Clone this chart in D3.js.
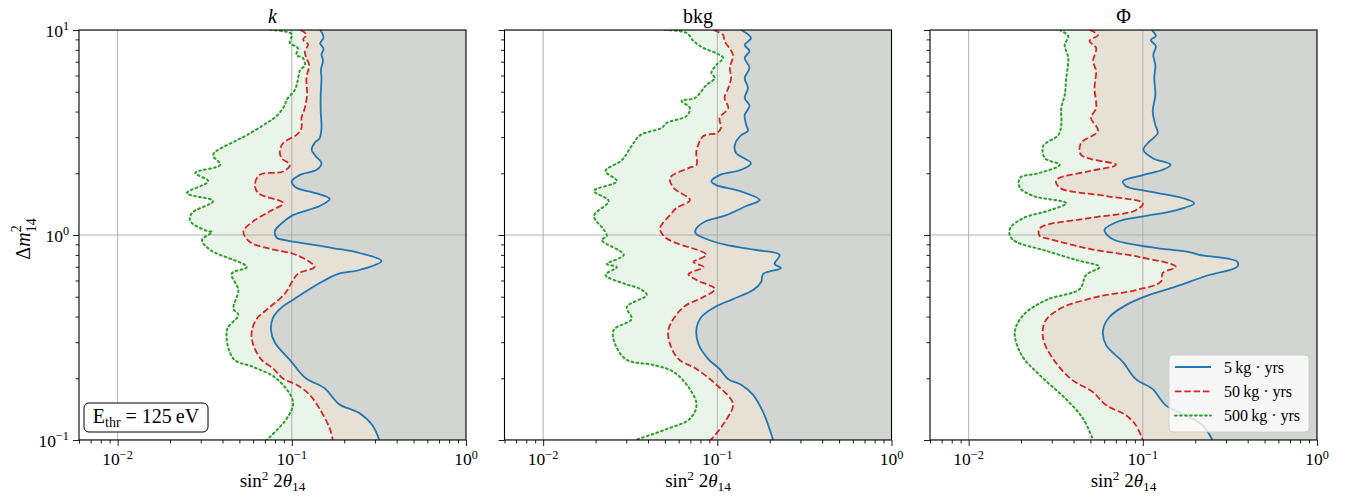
<!DOCTYPE html>
<html>
<head>
<meta charset="utf-8">
<script src="https://cdn.jsdelivr.net/npm/d3@7"></script>
<style>
    body { margin: 0; background: #fff; }
    svg text { font-family: "Liberation Serif", "DejaVu Serif", serif; fill: #000; }
</style>
</head>
<body>
<svg id="chart" width="1354" height="497"></svg>
<script>
// exclusion contours, [sin^2 2theta14, dm2_14]
const titles = ['k', 'bkg', 'Φ']
const exposures = ['5', '50', '500']
const xMajorTicks = [0.01, 0.1, 1]
const yMajorTicks = [0.1, 1, 10]
const thresholdEv = '125'

const kBlue = [[0.1455,10],[0.152,9.2],[0.1455,8.6],[0.152,8.1],[0.148,7.6],[0.151,7.1],[0.147,6.4],[0.148,5.83],[0.1465,4.82],[0.1465,4.02],[0.148,3.33],[0.1445,2.97],[0.135,2.81],[0.130,2.60],[0.137,2.43],[0.148,2.24],[0.139,2.08],[0.111,1.96],[0.100,1.83],[0.105,1.71],[0.137,1.60],[0.165,1.50],[0.1445,1.385],[0.1013,1.25],[0.0854,1.12],[0.080,1.046],[0.0821,0.967],[0.0912,0.945],[0.1715,0.864],[0.245,0.817],[0.327,0.747],[0.245,0.675],[0.183,0.645],[0.1445,0.583],[0.1013,0.482],[0.0877,0.445],[0.0779,0.394],[0.0759,0.344],[0.080,0.298],[0.0974,0.246],[0.120,0.2005],[0.154,0.179],[0.186,0.150],[0.245,0.135],[0.290,0.118],[0.318,0.1]]
const kRed = [[0.112,10],[0.1213,9.48],[0.116,8.97],[0.124,8.48],[0.1187,7.88],[0.1213,7.30],[0.1256,6.77],[0.1213,5.83],[0.1223,4.84],[0.1187,4.16],[0.1136,3.72],[0.1136,3.33],[0.1064,3.08],[0.0892,2.81],[0.0854,2.56],[0.0873,2.37],[0.0974,2.20],[0.0892,2.04],[0.0656,1.97],[0.0614,1.76],[0.0642,1.60],[0.0892,1.43],[0.0748,1.305],[0.0601,1.166],[0.0527,1.04],[0.0575,0.924],[0.0748,0.857],[0.1017,0.81],[0.1268,0.738],[0.135,0.698],[0.1086,0.648],[0.1017,0.603],[0.0912,0.517],[0.0748,0.445],[0.0629,0.39],[0.0588,0.336],[0.0601,0.291],[0.0671,0.246],[0.0782,0.223],[0.0892,0.199],[0.1064,0.186],[0.1268,0.166],[0.148,0.137],[0.165,0.114],[0.172,0.1]]
const kGreen = [[0.0749,10],[0.0996,9.56],[0.0974,8.65],[0.108,8.17],[0.1064,7.55],[0.1156,7.30],[0.1187,6.75],[0.111,6.31],[0.108,5.64],[0.104,5.10],[0.0933,4.56],[0.0912,4.31],[0.0818,3.81],[0.0717,3.52],[0.0551,3.07],[0.0472,2.87],[0.0353,2.46],[0.0388,2.20],[0.0279,2.01],[0.0331,1.83],[0.0250,1.60],[0.0353,1.465],[0.0267,1.28],[0.0261,1.17],[0.0326,1.046],[0.0348,1.034],[0.0305,0.945],[0.034,0.845],[0.0551,0.698],[0.0452,0.648],[0.0493,0.539],[0.0462,0.437],[0.0493,0.407],[0.0424,0.344],[0.0462,0.249],[0.0601,0.227],[0.0818,0.199],[0.1017,0.153],[0.0933,0.127],[0.0717,0.1]]

const bkgBlue = [[0.137,10],[0.156,9.14],[0.1436,8.45],[0.153,7.91],[0.1436,7.30],[0.153,6.54],[0.1436,5.83],[0.150,5.21],[0.1436,4.66],[0.153,4.26],[0.1436,3.85],[0.1465,3.44],[0.150,3.22],[0.137,3.07],[0.126,2.75],[0.128,2.51],[0.156,2.24],[0.137,2.08],[0.103,1.96],[0.0924,1.83],[0.0987,1.75],[0.134,1.64],[0.175,1.48],[0.1465,1.385],[0.1126,1.25],[0.0865,1.17],[0.0759,1.08],[0.0749,1.02],[0.0865,0.956],[0.1126,0.894],[0.167,0.845],[0.228,0.80],[0.213,0.722],[0.232,0.69],[0.183,0.645],[0.1785,0.59],[0.1605,0.539],[0.123,0.487],[0.0968,0.445],[0.081,0.398],[0.0759,0.348],[0.0779,0.294],[0.0888,0.248],[0.103,0.222],[0.1156,0.198],[0.137,0.186],[0.1605,0.166],[0.183,0.137],[0.1996,0.113],[0.209,0.1]]
const bkgRed = [[0.0949,10],[0.108,9.45],[0.110,8.84],[0.123,7.55],[0.118,6.54],[0.120,5.83],[0.1156,5.21],[0.110,4.66],[0.1156,4.16],[0.103,3.72],[0.105,3.33],[0.0987,3.14],[0.0832,3.04],[0.0759,2.57],[0.0759,2.20],[0.0683,2.12],[0.0535,1.90],[0.056,1.70],[0.0696,1.48],[0.0583,1.355],[0.0535,1.25],[0.0469,1.08],[0.0491,0.989],[0.056,0.924],[0.0865,0.80],[0.0729,0.738],[0.0832,0.698],[0.0683,0.645],[0.0759,0.603],[0.0968,0.545],[0.0832,0.498],[0.0639,0.445],[0.0525,0.348],[0.0535,0.294],[0.0599,0.248],[0.0759,0.222],[0.0987,0.186],[0.123,0.150],[0.110,0.122],[0.0949,0.1034],[0.0912,0.1]]
const bkgGreen = [[0.050,10],[0.0665,9.67],[0.0729,8.84],[0.0832,8.17],[0.0987,7.70],[0.108,7.30],[0.0987,6.75],[0.0924,6.17],[0.0968,5.83],[0.0865,5.39],[0.0744,4.66],[0.0623,4.51],[0.0696,4.16],[0.0665,3.81],[0.0511,3.52],[0.0479,3.33],[0.0361,3.07],[0.0322,2.72],[0.0283,2.32],[0.0228,2.05],[0.0265,1.83],[0.0196,1.64],[0.0238,1.465],[0.0196,1.24],[0.0223,1.06],[0.0232,0.989],[0.0217,0.945],[0.029,0.80],[0.0232,0.722],[0.0265,0.698],[0.0228,0.638],[0.0296,0.577],[0.0361,0.545],[0.0393,0.510],[0.0302,0.445],[0.0322,0.389],[0.0254,0.344],[0.026,0.291],[0.0302,0.246],[0.0431,0.232],[0.056,0.215],[0.0696,0.177],[0.0759,0.148],[0.0696,0.127],[0.0511,0.113],[0.0338,0.1]]

const phiBlue = [[0.1126,10],[0.1187,9.34],[0.111,8.94],[0.1187,8.35],[0.1148,7.55],[0.118,6.75],[0.1163,5.83],[0.118,4.82],[0.114,4.02],[0.118,3.44],[0.1218,3.14],[0.1068,2.81],[0.1007,2.60],[0.114,2.37],[0.1445,2.20],[0.130,2.08],[0.100,1.96],[0.0769,1.83],[0.080,1.73],[0.104,1.64],[0.1693,1.515],[0.197,1.43],[0.1544,1.32],[0.104,1.24],[0.0734,1.17],[0.0603,1.06],[0.0631,0.989],[0.0687,0.945],[0.0912,0.894],[0.130,0.855],[0.184,0.826],[0.21,0.80],[0.348,0.741],[0.348,0.70],[0.240,0.638],[0.1544,0.56],[0.109,0.510],[0.080,0.455],[0.0643,0.398],[0.0591,0.344],[0.0614,0.291],[0.0769,0.24],[0.0912,0.198],[0.114,0.177],[0.135,0.148],[0.176,0.132],[0.2203,0.118],[0.251,0.1]]
const phiRed = [[0.0494,10],[0.0553,9.45],[0.0494,8.84],[0.0539,8.17],[0.0518,7.06],[0.0539,6.31],[0.0528,5.21],[0.0539,4.16],[0.0504,3.72],[0.0553,3.22],[0.0442,2.81],[0.0442,2.46],[0.0701,2.20],[0.0494,2.05],[0.0318,1.85],[0.0333,1.70],[0.0614,1.55],[0.100,1.43],[0.0912,1.32],[0.0494,1.21],[0.0256,1.08],[0.0256,0.989],[0.0292,0.956],[0.0494,0.855],[0.0955,0.781],[0.1544,0.70],[0.130,0.652],[0.1268,0.592],[0.0912,0.539],[0.0539,0.498],[0.0333,0.436],[0.0274,0.377],[0.0268,0.311],[0.0306,0.248],[0.0388,0.198],[0.0518,0.171],[0.0614,0.148],[0.080,0.132],[0.0912,0.118],[0.100,0.1]]
const phiGreen = [[0.0333,10],[0.0373,9.34],[0.0356,8.45],[0.0373,7.30],[0.0363,5.83],[0.0356,4.82],[0.034,4.16],[0.034,3.44],[0.0327,3.07],[0.0268,2.72],[0.0274,2.37],[0.0333,2.20],[0.0256,2.01],[0.0197,1.90],[0.0197,1.70],[0.0235,1.55],[0.0363,1.43],[0.0292,1.32],[0.0206,1.21],[0.0173,1.08],[0.0173,0.989],[0.0188,0.924],[0.0268,0.845],[0.0414,0.755],[0.0564,0.698],[0.0472,0.638],[0.0434,0.545],[0.0279,0.482],[0.0206,0.407],[0.0184,0.336],[0.0201,0.26],[0.0256,0.207],[0.0363,0.158],[0.0454,0.127],[0.0518,0.1]]

const panels = [
    { title: titles[0], italic: true, curves: [kBlue, kRed, kGreen] },
    { title: titles[1], italic: false, curves: [bkgBlue, bkgRed, bkgGreen] },
    { title: titles[2], italic: false, curves: [phiBlue, phiRed, phiGreen] }
]

const colors = ['#1f77b4', '#d62728', '#2ca02c']
const dashes = [null, '6.5,2.8', '1.8,3.2']

const panelLeft = [79, 504.5, 930]
const marginTop = 30
const width = 387
const height = 410

const svg = d3.select('#chart')

function powLabel(text, v) {
    const e = Math.round(Math.log10(v))
    text.append('tspan').text('10')
    text.append('tspan')
        .attr('font-size', '0.7em')
        .attr('dy', '-0.5em')
        .text(e < 0 ? '\u2212' + (-e) : e)
}

panels.forEach((p, i) => {
    const g = svg.append('g')
        .attr('transform', `translate(${panelLeft[i]}, ${marginTop})`)

    const x = d3.scaleLog().domain([0.006, 1]).range([0, width])
    const y = d3.scaleLog().domain([0.1, 10]).range([height, 0])

    g.append('clipPath').attr('id', 'clip' + i)
        .append('rect').attr('width', width).attr('height', height)

    const plot = g.append('g').attr('clip-path', `url(#clip${i})`)

    // shaded excluded regions: right of each contour
    const area = d => {
        const pts = d.map(q => [x(q[0]), y(q[1])])
        const line = d3.line().curve(d3.curveCatmullRom.alpha(0.5))(pts)
        return line + `L${width},${y(0.1)}L${width},${y(10)}Z`
    }
    const order = [2, 1, 0]
    order.forEach(c => {
        plot.append('path')
            .attr('d', area(p.curves[c]))
            .attr('fill', colors[c])
            .attr('fill-opacity', 0.1)
    })

    // grid on major ticks
    plot.selectAll('.vgrid')
        .data(xMajorTicks)
        .join('line')
            .attr('x1', d => x(d)).attr('x2', d => x(d))
            .attr('y1', 0).attr('y2', height)
            .attr('stroke', '#b0b0b0').attr('stroke-width', 1)
    plot.selectAll('.hgrid')
        .data(yMajorTicks)
        .join('line')
            .attr('x1', 0).attr('x2', width)
            .attr('y1', d => y(d)).attr('y2', d => y(d))
            .attr('stroke', '#b0b0b0').attr('stroke-width', 1)

    const line = d3.line()
        .x(d => x(d[0]))
        .y(d => y(d[1]))
        .curve(d3.curveCatmullRom.alpha(0.5))

    order.forEach(c => {
        plot.append('path')
            .attr('d', line(p.curves[c]))
            .attr('fill', 'none')
            .attr('stroke', colors[c])
            .attr('stroke-width', c === 2 ? 2 : 1.8)
            .attr('stroke-dasharray', dashes[c])
            .attr('stroke-linecap', c === 2 ? 'round' : 'butt')
    })

    // axes
    const xMinor = x.ticks().filter(t => !xMajorTicks.some(m => Math.abs(m - t) < 1e-9))
    const yMinor = y.ticks().filter(t => !yMajorTicks.some(m => Math.abs(m - t) < 1e-9))

    const xAxisG = g.append('g').attr('transform', `translate(0, ${height})`)
    xAxisG.call(d3.axisBottom(x).tickValues(xMajorTicks).tickSize(6).tickSizeOuter(0).tickFormat(''))
    xAxisG.append('g').call(d3.axisBottom(x).tickValues(xMinor).tickSize(3.5).tickSizeOuter(0).tickFormat(''))

    const yAxisG = g.append('g')
    yAxisG.call(d3.axisLeft(y).tickValues(yMajorTicks).tickSize(6).tickSizeOuter(0).tickFormat(''))
    yAxisG.append('g').call(d3.axisLeft(y).tickValues(yMinor).tickSize(3.5).tickSizeOuter(0).tickFormat(''))

    g.selectAll('.domain').remove()
    g.selectAll('.tick line').attr('stroke', '#222').attr('stroke-width', 1)

    xMajorTicks.forEach(v => {
        const t = g.append('text')
            .attr('x', x(v))
            .attr('y', height + 25)
            .attr('text-anchor', 'middle')
            .attr('font-size', 17.5)
        powLabel(t, v)
    })

    if (i === 0) {
        yMajorTicks.forEach(v => {
            const t = g.append('text')
                .attr('x', -10)
                .attr('y', y(v) + 6.5)
                .attr('text-anchor', 'end')
                .attr('font-size', 17.5)
            powLabel(t, v)
        })
    }

    // spines
    g.append('rect')
        .attr('width', width).attr('height', height)
        .attr('fill', 'none')
        .attr('stroke', '#000').attr('stroke-width', 1.1)

    // title
    g.append('text')
        .attr('x', width / 2)
        .attr('y', -7)
        .attr('text-anchor', 'middle')
        .attr('font-size', 20)
        .attr('font-style', p.italic ? 'italic' : 'normal')
        .text(p.title)

    // x label: sin^2 2theta_14
    const xl = g.append('text')
        .attr('x', width / 2)
        .attr('y', height + 47)
        .attr('text-anchor', 'middle')
        .attr('font-size', 19)
    xl.append('tspan').text('sin')
    xl.append('tspan').attr('font-size', '0.7em').attr('dy', '-0.55em').text('2')
    xl.append('tspan').attr('dy', '0.385em').attr('dx', '0.25em').text('2')
    xl.append('tspan').attr('font-style', 'italic').text('θ')
    xl.append('tspan').attr('font-size', '0.7em').attr('dy', '0.3em').text('14')

    if (i === 0) {
        const yl = svg.append('text')
            .attr('transform', `translate(30, ${marginTop + height / 2 + 4}) rotate(-90)`)
            .attr('text-anchor', 'middle')
            .attr('font-size', 20)
        yl.append('tspan').text('Δ')
        yl.append('tspan').attr('font-style', 'italic').text('m')
        yl.append('tspan').attr('font-size', '0.7em').attr('dy', -9).text('2')
        yl.append('tspan').attr('font-size', '0.7em').attr('dx', -7).attr('dy', 15).text('14')

        // threshold box
        const box = g.append('g').attr('transform', `translate(5, ${height - 37})`)
        box.append('rect')
            .attr('width', 124).attr('height', 29)
            .attr('rx', 5)
            .attr('fill', '#fff')
            .attr('stroke', '#000').attr('stroke-width', 1)
        const bt = box.append('text')
            .attr('x', 62).attr('y', 20)
            .attr('text-anchor', 'middle')
            .attr('font-size', 20)
        bt.append('tspan').text('E')
        bt.append('tspan').attr('font-size', '0.7em').attr('dy', 4).text('thr')
        bt.append('tspan').attr('dy', -4).text(' = ' + thresholdEv + '\u2009eV')
    }

    if (i === 2) {
        const lg = g.append('g').attr('transform', 'translate(239, 325)')
        lg.append('rect')
            .attr('width', 140).attr('height', 77)
            .attr('rx', 4)
            .attr('fill', '#fff').attr('fill-opacity', 0.8)
            .attr('stroke', '#d0d0d0').attr('stroke-width', 1)
        exposures.forEach((e, k) => {
            const yy = 12 + k * 24.3
            lg.append('line')
                .attr('x1', 6).attr('x2', 42)
                .attr('y1', yy).attr('y2', yy)
                .attr('stroke', colors[k])
                .attr('stroke-width', k === 2 ? 2 : 1.8)
                .attr('stroke-dasharray', dashes[k])
                .attr('stroke-linecap', k === 2 ? 'round' : 'butt')
            lg.append('text')
                .attr('x', 55).attr('y', yy + 5.5)
                .attr('font-size', 16)
                .text(e + '\u2009kg \u00b7 yrs')
        })
    }
})
</script>
</body>
</html>
